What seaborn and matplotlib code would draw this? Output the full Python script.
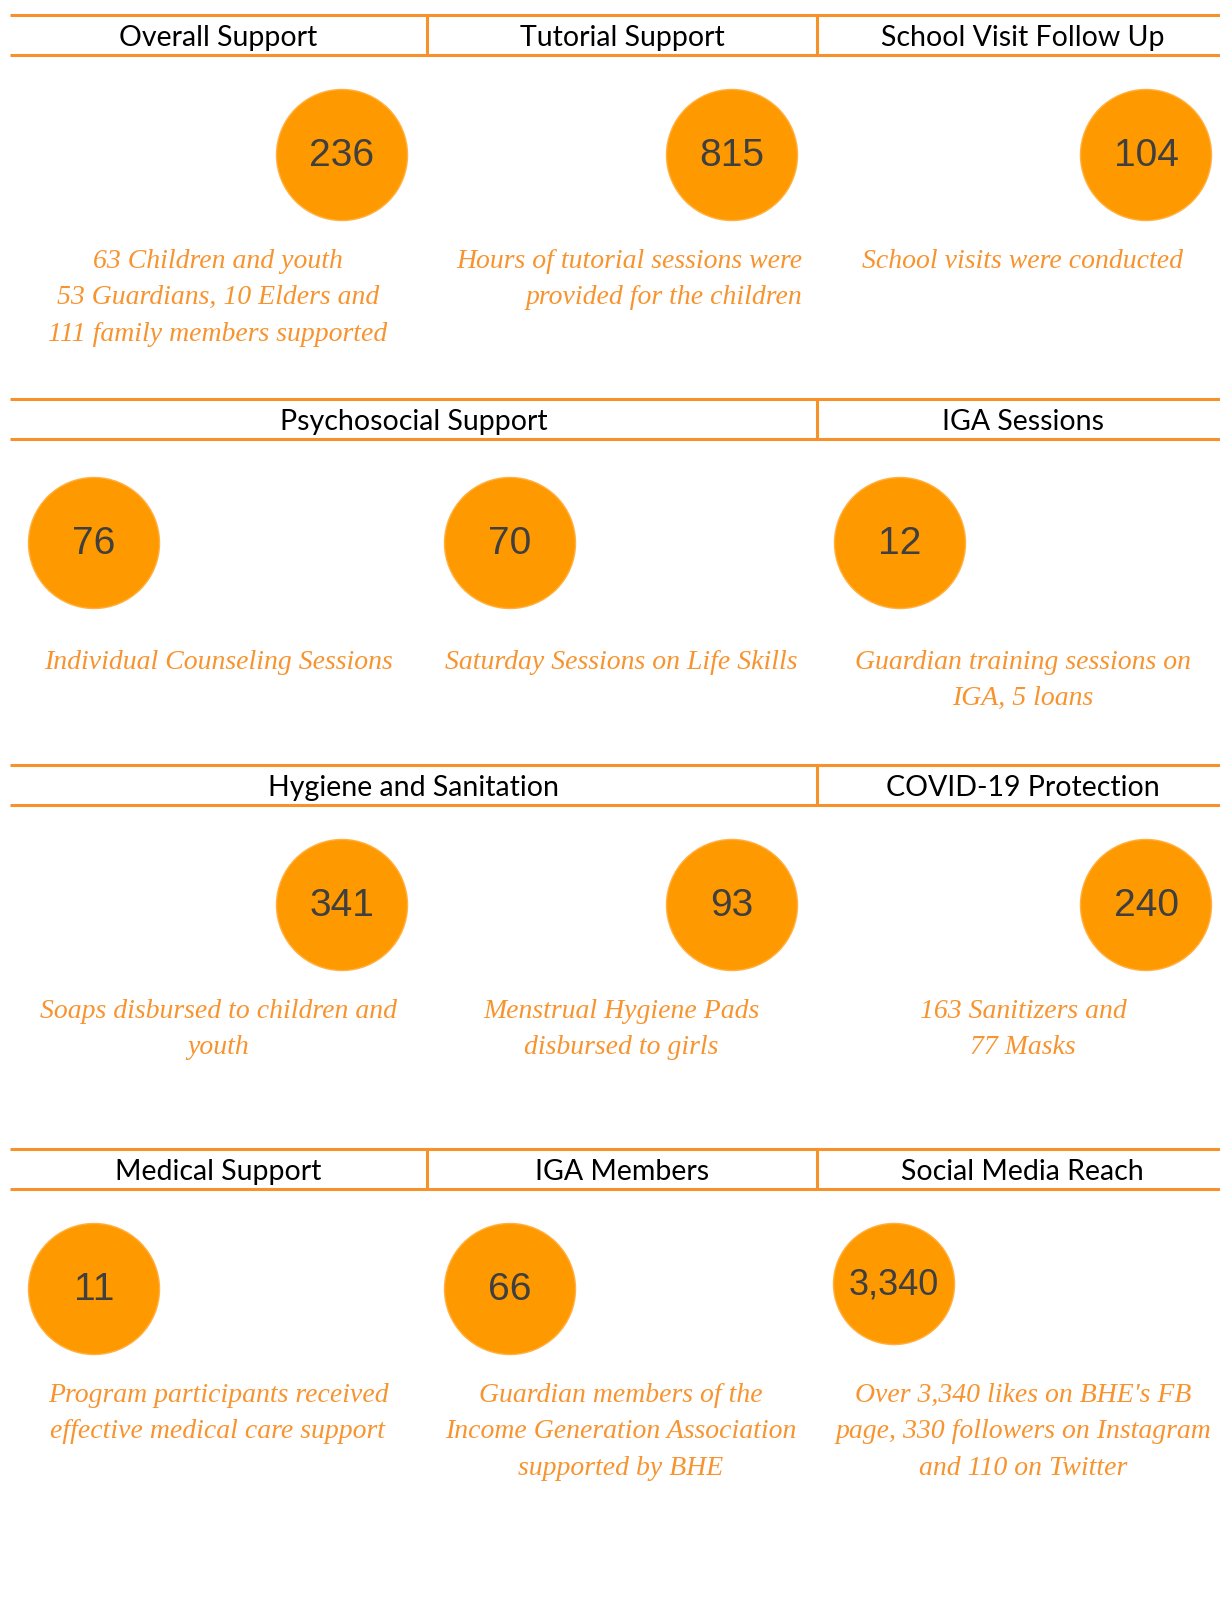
import matplotlib
matplotlib.use("Agg")
import matplotlib.pyplot as plt
import seaborn as sns
import pandas as pd

# headers for each band: (label, first column, last column)
header_rows = [
    [("Overall Support", 0, 0), ("Tutorial Support", 1, 1), ("School Visit Follow Up", 2, 2)],
    [("Psychosocial Support", 0, 1), ("IGA Sessions", 2, 2)],
    [("Hygiene and Sanitation", 0, 1), ("COVID-19 Protection", 2, 2)],
    [("Medical Support", 0, 0), ("IGA Members", 1, 1), ("Social Media Reach", 2, 2)],
]

values = [
    ["236", "815", "104"],
    ["76", "70", "12"],
    ["341", "93", "240"],
    ["11", "66", "3,340"],
]

descriptions = [
    ["63 Children and youth\n53 Guardians, 10 Elders and\n111 family members supported",
     "Hours of tutorial sessions were\nprovided for the children",
     "School visits were conducted"],
    ["Individual Counseling Sessions",
     "Saturday Sessions on Life Skills",
     "Guardian training sessions on\nIGA, 5 loans"],
    ["Soaps disbursed to children and\nyouth",
     "Menstrual Hygiene Pads\ndisbursed to girls",
     "163 Sanitizers and\n77 Masks"],
    ["Program participants received\neffective medical care support",
     "Guardian members of the\nIncome Generation Association\nsupported by BHE",
     "Over 3,340 likes on BHE's FB\npage, 330 followers on Instagram\nand 110 on Twitter"],
]

# layout (pixels)
col_edges = [10, 427, 817, 1220]
label_edges = [10, 427, 817, 1228]
band_tops = [15, 399, 765, 1149]
band_h = 40
circle_y = [155, 543, 905, 1289]
circle_x_rows = [
    [342, 732, 1146],
    [94, 510, 900],
    [342, 732, 1146],
    [94, 510, 894],
]
desc_y = [258, 659, 1008, 1392]
desc_x = [218, 621, 1023]

ORANGE = "#F7922A"
CIRCLE = "#FF9900"
TEXT_OR = "#F7942F"

sns.set_theme(style="white")
plt.rcParams["font.family"] = ["Lato", "DejaVu Sans"]

fig = plt.figure(figsize=(12.2, 16.18), dpi=100)
ax = fig.add_axes([0, 0, 1, 1])
ax.set_xlim(0, 1220)
ax.set_ylim(1618, 0)
ax.axis("off")

# circles
pts = []
for r in range(4):
    for c in range(3):
        small = values[r][c] == "3,340"
        pts.append({"x": circle_x_rows[r][c], "y": circle_y[r] - (5 if small else 0),
                    "s": 7600 if small else 8900, "label": values[r][c]})
df = pd.DataFrame(pts)
sns.scatterplot(data=df, x="x", y="y", size="s", sizes=(7600, 8900), color=CIRCLE,
                edgecolor="#FFB040", linewidth=1, legend=False, ax=ax, zorder=2)
for _, p in df.iterrows():
    fs = 26 if p["label"] == "3,340" else 28
    ax.text(p["x"], p["y"] + 1, p["label"], ha="center", va="center", fontsize=fs,
            color="#3F3F3F", family=["Liberation Sans", "DejaVu Sans"], zorder=3)

# header bands
for r, row in enumerate(header_rows):
    top = band_tops[r]
    bot = top + band_h
    ax.plot([col_edges[0], col_edges[-1]], [top, top], color=ORANGE, lw=2.2, solid_capstyle="butt")
    ax.plot([col_edges[0], col_edges[-1]], [bot, bot], color=ORANGE, lw=2.2, solid_capstyle="butt")
    for label, c0, c1 in row:
        x0, x1 = label_edges[c0], label_edges[c1 + 1]
        if c0 > 0:
            ax.plot([x0, x0], [top, bot], color=ORANGE, lw=2.2)
        ax.text((x0 + x1) / 2, top + band_h / 2 + 3, label, ha="center", va="center",
                fontsize=20.5, color="black")

# descriptions
for r in range(4):
    for c in range(3):
        txt = descriptions[r][c]
        if r == 0 and c == 1:
            x, ha = 802, "right"
        else:
            x, ha = desc_x[c], "center"
        ax.text(x, desc_y[r] - 9, txt, ha=ha, va="top", multialignment=ha,
                fontsize=20, color=TEXT_OR, style="italic", linespacing=1.6,
                family=["Liberation Serif", "DejaVu Serif"])

fig.savefig("out.png", dpi=100, facecolor="white")
